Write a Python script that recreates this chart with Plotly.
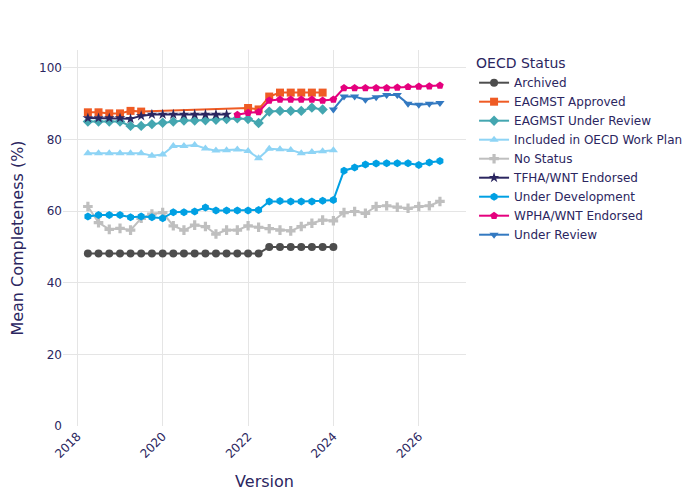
import plotly.graph_objects as go

# quarterly versions
versions = [
    "2018-04-01", "2018-07-01", "2018-10-01", "2019-01-01", "2019-04-01", "2019-07-01",
    "2019-10-01", "2020-01-01", "2020-04-01", "2020-07-01", "2020-10-01", "2021-01-01",
    "2021-04-01", "2021-07-01", "2021-10-01", "2022-01-01", "2022-04-01", "2022-07-01",
    "2022-10-01", "2023-01-01", "2023-04-01", "2023-07-01", "2023-10-01", "2024-01-01",
    "2024-04-01", "2024-07-01", "2024-10-01", "2025-01-01", "2025-04-01", "2025-07-01",
    "2025-10-01", "2026-01-01", "2026-04-01", "2026-07-01",
]

_ = None
archived = [48.2, 48.2, 48.2, 48.2, 48.2, 48.2, 48.2, 48.2, 48.2, 48.2, 48.2, 48.2,
            48.2, 48.2, 48.2, 48.2, 48.2, 50.0, 50.0, 50.0, 50.0, 50.0, 50.0, 50.0,
            _, _, _, _, _, _, _, _, _, _]
eagmst_approved = [87.6, 87.6, 87.3, 87.3, 88.0, 87.8, _, _, _, _, _, _,
                   _, _, _, 88.8, 88.4, 92.0, 93.1, 93.1, 93.1, 93.1, 93.1, _,
                   _, _, _, _, _, _, _, _, _, _]
eagmst_review = [85.0, 85.0, 85.0, 85.0, 83.8, 83.8, 84.3, 84.7, 85.0, 85.3, 85.3, 85.4,
                 85.5, 85.7, 85.9, 85.7, 84.6, 87.8, 88.0, 88.0, 88.0, 88.9, 88.4, _,
                 _, _, _, _, _, _, _, _, _, _]
included_plan = [76.2, 76.2, 76.2, 76.2, 76.2, 76.2, 75.5, 75.8, 78.2, 78.2, 78.5, 77.5,
                 76.9, 77.0, 77.2, 76.8, 74.8, 77.4, 77.3, 77.1, 76.2, 76.5, 76.7, 77.0,
                 _, _, _, _, _, _, _, _, _, _]
no_status = [61.3, 56.8, 54.9, 55.2, 54.7, 58.0, 59.2, 59.6, 55.9, 54.7, 56.1, 55.7,
             53.6, 54.7, 54.7, 55.9, 55.5, 55.1, 54.7, 54.5, 55.7, 56.6, 57.5, 57.3,
             59.6, 59.9, 59.4, 61.3, 61.5, 61.1, 60.8, 61.3, 61.5, 62.7]
tfha_endorsed = [86.0, 86.0, 86.0, 86.0, 85.8, 86.6, 87.0, 87.0, 87.0, 87.0, 87.0, 87.0,
                 87.0, 87.0, _, _, _, _, _, _, _, _, _, _,
                 _, _, _, _, _, _, _, _, _, _]
under_development = [58.5, 58.9, 58.9, 58.9, 58.3, 58.5, 58.3, 58.0, 59.7, 59.7, 59.9, 61.0,
                     60.2, 60.2, 60.2, 60.2, 60.3, 62.7, 62.8, 62.7, 62.7, 62.7, 62.9, 63.1,
                     71.3, 72.2, 73.0, 73.3, 73.4, 73.4, 73.4, 72.9, 73.6, 74.0]
wpha_endorsed = [_, _, _, _, _, _, _, _, _, _, _, _,
                 _, _, 86.9, 87.5, 87.7, 90.9, 91.2, 91.2, 91.2, 91.2, 90.9, 91.2,
                 94.4, 94.4, 94.4, 94.4, 94.4, 94.5, 94.7, 94.8, 94.9, 95.1]
under_review = [_, _, _, _, _, _, _, _, _, _, _, _,
                _, _, _, _, _, _, _, _, _, _, _, 88.4,
                92.0, 92.0, 91.1, 91.8, 92.4, 92.4, 90.0, 89.7, 90.0, 90.2]

series = [
    ("Archived", archived, "#4D4D4D", "circle"),
    ("EAGMST Approved", eagmst_approved, "#EF5B24", "square"),
    ("EAGMST Under Review", eagmst_review, "#44A6B0", "diamond"),
    ("Included in OECD Work Plan", included_plan, "#8ED4F5", "triangle-up"),
    ("No Status", no_status, "#BFBFBF", "cross"),
    ("TFHA/WNT Endorsed", tfha_endorsed, "#2B2660", "star"),
    ("Under Development", under_development, "#00A0E3", "hexagon"),
    ("WPHA/WNT Endorsed", wpha_endorsed, "#E5007E", "pentagon"),
    ("Under Review", under_review, "#3379C1", "triangle-down"),
]

text_color = "#2B2660"

fig = go.Figure()
for name, vals, color, symbol in series:
    fig.add_trace(go.Scatter(
        x=versions, y=vals, name=name, mode="lines+markers",
        connectgaps=True,
        line=dict(color=color, width=2),
        marker=dict(color=color, symbol=symbol, size=8),
    ))

# page body has an 8px margin, so the figure is pulled up/left by that much
fig.update_layout(
    width=700, height=500,
    margin=dict(l=55, r=242, t=42, b=82),
    plot_bgcolor="white", paper_bgcolor="white",
    font=dict(family="DejaVu Sans", color=text_color, size=12),
    legend=dict(title=dict(text="OECD Status", font=dict(size=14)), font=dict(size=12)),
    xaxis=dict(
        title=dict(text="Version", font=dict(size=16)),
        type="date", range=["2017-08-31", "2027-02-09"],
        dtick="M24", tick0="2018-01-01", tickformat="%Y", tickangle=-45,
        showgrid=True, gridcolor="#E5E5E5", zeroline=False, showline=False,
        tickfont=dict(size=12), automargin=False,
    ),
    yaxis=dict(
        title=dict(text="Mean Completeness (%)", font=dict(size=16), standoff=30),
        range=[0, 105], dtick=20, automargin=False,
        showgrid=True, gridcolor="#E5E5E5", zeroline=False, showline=False,
        tickfont=dict(size=12),
    ),
)

fig.write_html("out.html")
